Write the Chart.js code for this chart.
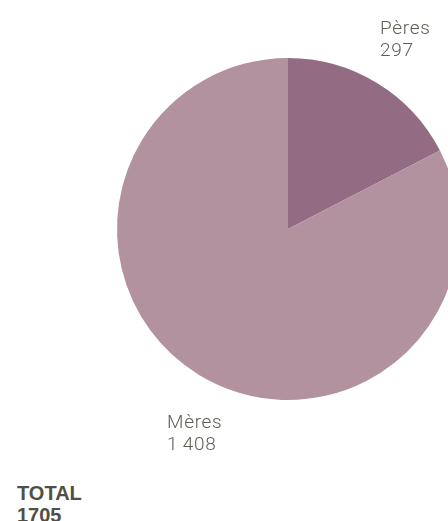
<!DOCTYPE html>
<html>
<head>
<meta charset="utf-8">
<script src="https://cdn.jsdelivr.net/npm/chart.js@4.4.0/dist/chart.umd.min.js"></script>
<style>
  html, body { margin: 0; padding: 0; background: #fff; }
  #wrap { position: relative; width: 448px; height: 521px; overflow: hidden; }
  #pie { position: absolute; left: 0; top: 0; }
  #total {
    position: absolute; left: 17px; top: 482px;
    font-family: "Liberation Sans", Arial, sans-serif; font-weight: 700;
    font-size: 20px; line-height: 22px; color: #4f4f47;
  }
</style>
</head>
<body>
<div id="wrap">
  <canvas id="pie" width="576" height="458"></canvas>
  <div id="total"></div>
</div>
<script>
const categories = ["Pères", "Mères"];
const values = [297, 1408];
const valueLabels = ["297", "1\u2009408"];
const totalLabel = "TOTAL";
const colors = ["#936c84", "#b3929f"];

const totalValue = values.reduce((a, b) => a + b, 0);
document.getElementById("total").innerHTML =
  totalLabel + "<br>" + totalValue;

// label offsets relative to the pie centre / radius
const labelPlugin = {
  id: "sliceLabels",
  afterDraw(chart) {
    const ctx = chart.ctx;
    const arcs = chart.getDatasetMeta(0).data;
    const cx = arcs[0].x, cy = arcs[0].y, r = arcs[0].outerRadius;
    const spots = [
      { x: cx + 92, y: cy - r - 24 },
      { x: cx - 121, y: cy + r + 28 },
    ];
    ctx.save();
    ctx.font = "300 19px Roboto, sans-serif";
    ctx.letterSpacing = "0.7px";
    ctx.fillStyle = "#5e5e55";
    ctx.textAlign = "left";
    ctx.textBaseline = "alphabetic";
    categories.forEach((c, i) => {
      const s = spots[i];
      ctx.fillText(c, s.x, s.y);
      ctx.fillText(valueLabels[i], s.x, s.y + 22);
    });
    ctx.restore();
  },
};

new Chart(document.getElementById("pie").getContext("2d"), {
  type: "pie",
  data: {
    labels: categories,
    datasets: [
      {
        data: values,
        backgroundColor: colors,
        borderWidth: 0,
      },
    ],
  },
  options: {
    responsive: false,
    animation: false,
    layout: { padding: 58 },
    plugins: {
      legend: { display: false },
      tooltip: { enabled: false },
    },
  },
  plugins: [labelPlugin],
});
</script>
</body>
</html>
